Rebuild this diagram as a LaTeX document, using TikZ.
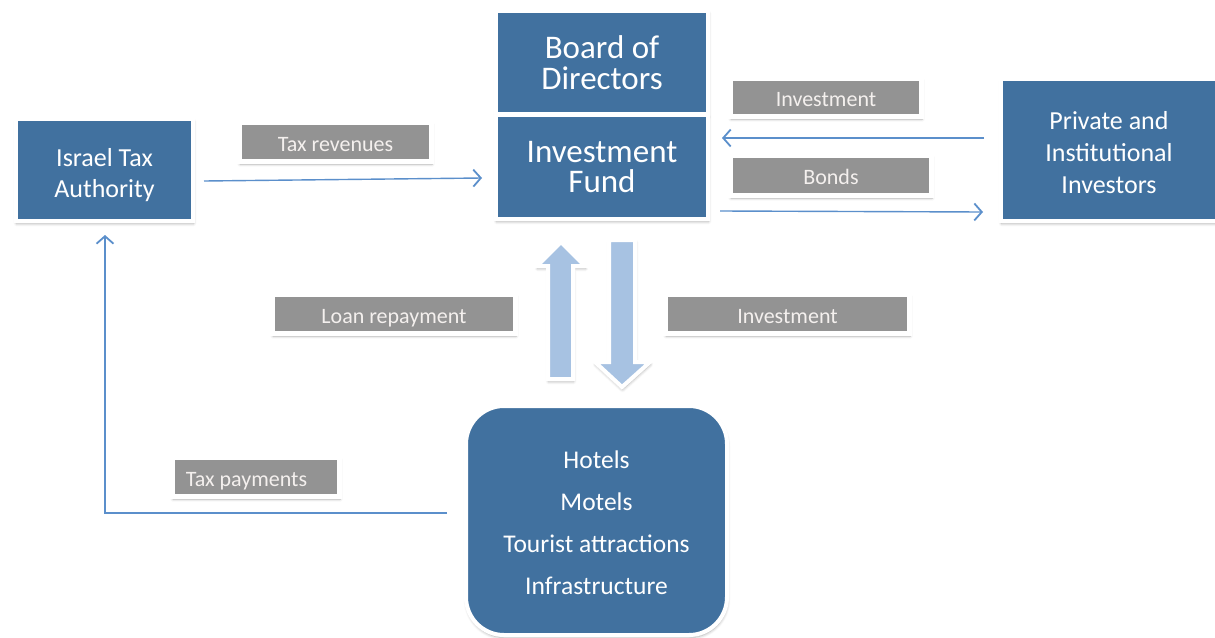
\documentclass[tikz,border=0pt]{standalone}
\usepackage{fontspec}
\setmainfont{Carlito}
\usetikzlibrary{arrows.meta,shadows.blur,calc}
\definecolor{boxblue}{HTML}{41719F}
\definecolor{labelgray}{HTML}{939393}
\definecolor{linkblue}{HTML}{5B8FCB}
\definecolor{flowblue}{HTML}{A7C2E2}
\definecolor{labeltext}{HTML}{F4F0EE}
\begin{document}
\begin{tikzpicture}[x=1pt,y=-1pt,
  soft/.style={blur shadow={shadow xshift=0.5pt,shadow yshift=-2.5pt,
    shadow blur radius=3pt,shadow blur steps=6,shadow opacity=32}},
  bluebox/.style={soft,fill=boxblue,draw=white,line width=4pt,text=white,
    align=center,inner sep=0pt},
  caption/.style={text=white,align=center,inner sep=0pt},
  tag/.style={soft,fill=labelgray,draw=white,line width=5pt,text=labeltext,
    inner sep=0pt,font=\fontsize{22}{24}\selectfont,
    text height=20pt,text depth=2pt},
  conn/.style={draw=linkblue,line width=1.4pt,
    -{Straight Barb[length=7.5pt,width=17pt,line width=1.8pt]}},
  flow/.style={soft,fill=flowblue,draw=white,line width=4pt,line join=miter}]
\useasboundingbox (0,0) rectangle (1215,637);

% main boxes
\node[bluebox,minimum width=212pt,minimum height=103pt,
  font=\fontsize{33}{31}\selectfont] (board) at (602,62.5) {Board of\\Directors};
\node[bluebox,minimum width=212pt,minimum height=104pt,
  font=\fontsize{33}{30}\selectfont] (fund) at (602,167) {Investment\\Fund};
\node[bluebox,minimum width=177pt,minimum height=102pt] (ita) at (104.5,170) {};
\node[caption,font=\fontsize{26}{31}\selectfont] (itatext) at ([yshift=-5pt]ita.center)
  {Israel Tax\\Authority};
\node[bluebox,minimum width=221pt,minimum height=142pt] (priv) at (1111.5,150) {};
\node[caption,font=\fontsize{26}{32}\selectfont] (privtext) at (1109,153)
  {Private and\\Institutional\\Investors};
\node[bluebox,minimum width=261pt,minimum height=229pt,rounded corners=38pt] (sites)
  at (596.5,520.5) {};
\node[caption,font=\fontsize{25.5}{42}\selectfont] (sitestext) at ([yshift=-2.5pt]sites.center)
  {Hotels\\Motels\\Tourist attractions\\Infrastructure};

% flow labels
\node[tag,minimum width=192pt,minimum height=39pt] (ltax) at (335.5,142) {Tax revenues};
\node[tag,minimum width=191pt,minimum height=38pt] (linv) at (826,97.5) {Investment};
\node[tag,minimum width=201pt,minimum height=40pt] (lbond) at (831,175.5) {Bonds};
\node[tag,minimum width=243pt,minimum height=39pt] (lloan) at (394,314) {Loan repayment};
\node[tag,minimum width=244pt,minimum height=39pt] (lfund) at (787.5,314) {Investment};
\node[tag,minimum width=167pt,minimum height=39pt] (lpay) at (256,477)
  {Tax payments\hspace*{19pt}};

% thin connectors
\draw[conn] ([shift={(9,11)}]ita.east) -- ([shift={(-12,11)}]fund.west);
\draw[conn] ([shift={(-15,-12)}]priv.west) -- ([shift={(12,-29)}]fund.east);
\draw[conn] ([shift={(10,44)}]fund.east) -- ([shift={(-16,62)}]priv.west);
\coordinate (bend) at (105,513);
\draw[conn] ([shift={(-17,-7.5)}]sites.west) -- (bend) -- ([shift={(0.5,12)}]ita.south);

% wide arrows between the fund and the projects
\filldraw[flow] (548,379) -- (548,266) -- (537,266) -- (561,242) -- (585,266)
  -- (573,266) -- (573,379) -- cycle;
\filldraw[flow] (609,240) -- (635,240) -- (635,362) -- (650,362) -- (622,387)
  -- (595,362) -- (609,362) -- cycle;
\end{tikzpicture}
\end{document}
